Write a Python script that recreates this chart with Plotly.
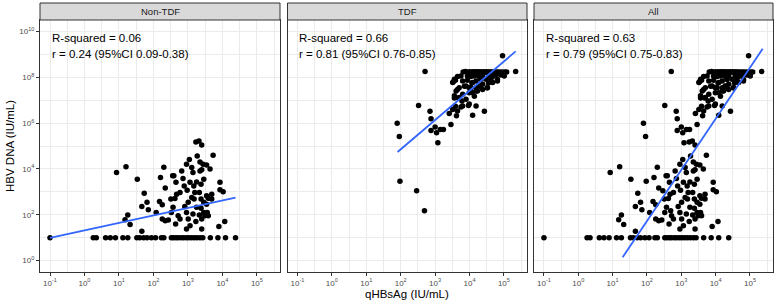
import plotly.graph_objects as go

# ---------------- data ----------------
# Non-TDF group: qHBsAg (IU/mL) and HBV DNA (IU/mL)
nontdf_qhbsag = [
    # points at the lower limit of HBV DNA (10 IU/mL)
    0.10, 1.8, 2.2, 4.1, 5.6, 7.9, 13, 18, 33, 40, 52, 65, 87, 115, 170, 200,
    330, 380, 450, 520, 630, 740, 890, 1050, 1260, 1510, 1820, 2240, 2690,
    4470, 7410, 12300, 24000,
    # quantifiable points
    8.5, 16, 34, 54, 65, 46, 71, 15, 18, 21, 46, 160, 200, 150, 180, 120, 220,
    180, 220, 270, 320, 360, 390, 450, 470, 590, 420, 370, 330, 520, 440, 590,
    720, 660, 910, 1100, 1290, 1400, 780, 950, 1150, 1290, 1020, 810, 910, 1020,
    910, 1150, 1480, 1780, 1580, 1510, 1780, 1400, 1700, 2140, 1700, 2090, 2510,
    1860, 2240, 2750, 2240, 2510, 3470, 2400, 2880, 2140, 2400, 2880, 2400, 2880,
    2510, 3470, 3470, 3630, 3090, 3890, 2510, 3890, 4370, 4900, 5370, 8500, 8500,
    10500, 7900, 11700, 4900,
]
nontdf_hbvdna = [
    10, 10, 10, 10, 10, 10, 10, 10, 10, 10, 10, 10, 10, 10, 10, 10,
    10, 10, 10, 10, 10, 10, 10, 10, 10, 10, 10, 10, 10,
    10, 10, 10, 10,
    6900, 12300, 3550, 870, 350, 230, 166, 60, 98, 37, 19, 4200, 11700, 380, 270, 126, 1450,
    65, 55, 59, 480, 5000, 5000, 2600, 790, 930, 510, 210, 126, 91, 39, 65,
    3800, 8100, 15800, 26000, 11500, 6900, 1800, 1170, 2600, 560, 350, 230, 126, 65,
    24, 33, 1800, 2700, 930, 480, 210, 107, 50, 98, 148000, 166000, 110000,
    37000, 20000, 15800, 8100, 9100, 14800, 2140, 3550, 930, 480, 350, 190, 126,
    65, 680, 290, 126, 91, 91, 24, 520, 9800, 480, 39000, 2600, 1230,
    1000, 31, 51, 790,
]

# TDF group
tdf_qhbsag = [
    79, 91, 95, 290, 490, 510, 330, 710, 760, 1000, 760, 1100, 1410, 1740, 1200,
    2880, 2570, 3240, 4170, 3890, 5620, 6030, 4790, 3630, 4470, 3390, 3890, 7600,
    9300, 12300, 27000, 7100, 9800, 8700, 11000, 13800, 15500, 11700, 19000, 21400,
    24000, 33000, 35500, 41700, 64600, 91000, 219000, 91000,
    3630, 3240, 4470, 5620, 6310, 8700, 11000, 13800, 7900, 9800, 12300, 15500,
    19000, 24000, 30000, 37000, 47000, 59000, 81000, 102000, 15500, 19000, 24000,
    17000, 12300, 5000, 4070, 3630, 5000, 6310, 7900, 9800, 6310, 15500, 33000,
    47000, 64600, 4470,
    # points at the upper limit of HBV DNA
    6500, 9000, 10000, 11000, 12000, 13000, 14000, 15000, 16000, 17000, 18000,
    19500, 21000, 23000, 25000, 27000, 29000, 31000, 34000, 37000, 40000, 44000,
    50000, 57000, 65000, 75000, 88000, 105000, 120000,
]
tdf_hbvdna = [
    980000, 257000, 2900, 1100, 148, 1.8e8, 5.9e6, 3.3e6, 1.55e6, 680000, 480000,
    380000, 525000, 525000, 138000, 870000, 2.6e6, 3.9e6, 2.1e6, 5.5e6, 5.1e6,
    9.1e6, 1.23e7, 1.26e7, 2.9e7, 6.3e7, 7.4e7, 1.8e8, 5.9e6, 2.2e6, 3.3e6, 4.1e7,
    2.1e7, 7.4e7, 3.5e7, 1.48e7, 2.5e7, 5.6e7, 4.1e7, 7.9e7, 2.9e7, 3.5e7, 5.6e7,
    7.9e7, 7.9e7, 8.7e8, 1.8e8, 1.55e8,
    8.1e7, 5.9e7, 1.07e8, 1.15e8, 6.9e7, 1.15e8, 1.07e8, 1.15e8, 4.2e7, 3.5e7,
    5.9e7, 6.9e7, 1.07e8, 1.15e8, 8.1e7, 1.15e8, 1.07e8, 1.26e8, 1.26e8, 1.15e8,
    3.5e7, 4.2e7, 5.0e7, 2.5e7, 2.1e7, 3.5e7, 2.5e7, 1.55e7, 1.32e7, 1.8e7, 1.1e7,
    6.8e6, 5.6e6, 5.6e6, 3.5e7, 5.9e7, 6.9e7, 3.4e6,
    1.7e8, 1.7e8, 1.7e8, 1.7e8, 1.7e8, 1.7e8, 1.7e8, 1.7e8, 1.7e8, 1.7e8, 1.7e8,
    1.7e8, 1.7e8, 1.7e8, 1.7e8, 1.7e8, 1.7e8, 1.7e8, 1.7e8, 1.7e8, 1.7e8, 1.7e8,
    1.7e8, 1.7e8, 1.7e8, 1.7e8, 1.7e8, 1.7e8, 1.7e8,
]

# "All" panel = both groups together
all_qhbsag = nontdf_qhbsag + tdf_qhbsag
all_hbvdna = nontdf_hbvdna + tdf_hbvdna

# fitted regression lines (end points, IU/mL)
fit_nontdf_x = [0.10, 24000]
fit_nontdf_y = [9.8, 560]
fit_tdf_x = [81, 219000]
fit_tdf_y = [55000, 1.35e9]
fit_all_x = [19.5, 234000]
fit_all_y = [1.38, 1.78e9]

panel_titles = ["Non-TDF", "TDF", "All"]
stats_line1 = ["R-squared = 0.06", "R-squared = 0.66", "R-squared = 0.63"]
stats_line2 = ["r = 0.24 (95%CI 0.09-0.38)", "r = 0.81 (95%CI 0.76-0.85)",
               "r = 0.79 (95%CI 0.75-0.83)"]

x_tickvals = [0.1, 1, 10, 100, 1e3, 1e4, 1e5]
x_ticktext = ["10<sup>-1</sup>", "10<sup>0</sup>", "10<sup>1</sup>", "10<sup>2</sup>",
              "10<sup>3</sup>", "10<sup>4</sup>", "10<sup>5</sup>"]
x_minor = [0.316, 3.16, 31.6, 316, 3162, 31623, 316228]
y_tickvals = [1, 1e2, 1e4, 1e6, 1e8, 1e10]
y_ticktext = ["10<sup>0</sup>", "10<sup>2</sup>", "10<sup>4</sup>", "10<sup>6</sup>",
              "10<sup>8</sup>", "10<sup>10</sup>"]
y_minor = [10, 1e3, 1e5, 1e7, 1e9]

# ---------------- figure ----------------
W, H = 777, 306
ML, MR, MT, MB = 40, 4, 3, 34
PW = W - ML - MR
PH = H - MT - MB
FONT = "Liberation Sans, Arial, Helvetica, sans-serif"

panels_px = [(40, 280), (287.5, 527), (534, 773)]
domains = [[(a - ML) / PW, (b - ML) / PW] for a, b in panels_px]
ytop = (272 - 20) / PH  # top of the panels (paper), strips above

fig = go.Figure()
series = [(nontdf_qhbsag, nontdf_hbvdna, fit_nontdf_x, fit_nontdf_y),
          (tdf_qhbsag, tdf_hbvdna, fit_tdf_x, fit_tdf_y),
          (all_qhbsag, all_hbvdna, fit_all_x, fit_all_y)]

for i, (xs, ys, fx, fy) in enumerate(series):
    sfx = "" if i == 0 else str(i + 1)
    fig.add_trace(go.Scatter(x=xs, y=ys, mode="markers", xaxis="x" + sfx, yaxis="y" + sfx,
                             marker=dict(size=5.5, color="black"), showlegend=False,
                             cliponaxis=False))
    fig.add_trace(go.Scatter(x=fx, y=fy, mode="lines", xaxis="x" + sfx, yaxis="y" + sfx,
                             line=dict(color="#3366FF", width=1.8), showlegend=False))

axis_common = dict(type="log", showline=True, mirror=True, linecolor="#333333", linewidth=1,
                   ticks="outside", ticklen=3, tickcolor="#333333", tickwidth=1,
                   showgrid=True, gridcolor="#EBEBEB", gridwidth=1, zeroline=False,
                   tickfont=dict(size=8, color="#4D4D4D", family=FONT))

layout = dict(width=W, height=H, margin=dict(l=ML, r=MR, t=MT, b=MB),
              paper_bgcolor="white", plot_bgcolor="white",
              font=dict(family=FONT, color="black"), showlegend=False)

for i in range(3):
    sfx = "" if i == 0 else str(i + 1)
    layout["xaxis" + sfx] = dict(axis_common, domain=domains[i], anchor="y" + sfx,
                                 range=[-1.29, 5.67], tickvals=x_tickvals, ticktext=x_ticktext,
                                 minor=dict(tickvals=x_minor, showgrid=True,
                                            gridcolor="#EBEBEB", gridwidth=0.5, ticks=""))
    layout["yaxis" + sfx] = dict(axis_common, domain=[0, ytop], anchor="x" + sfx,
                                 range=[-0.5, 10.5], tickvals=y_tickvals, ticktext=y_ticktext,
                                 showticklabels=(i == 0),
                                 ticks="outside" if i == 0 else "",
                                 minor=dict(tickvals=y_minor, showgrid=True,
                                            gridcolor="#EBEBEB", gridwidth=0.5, ticks=""))

shapes = []
annotations = []
for i in range(3):
    sfx = "" if i == 0 else str(i + 1)
    d0, d1 = domains[i]
    shapes.append(dict(type="rect", xref="paper", yref="paper", x0=d0, x1=d1,
                       y0=ytop, y1=1.0, fillcolor="#D9D9D9",
                       line=dict(color="#333333", width=1), layer="above"))
    annotations.append(dict(xref="paper", yref="paper", x=(d0 + d1) / 2,
                            y=(ytop + 1) / 2, text=panel_titles[i], showarrow=False,
                            xanchor="center", yanchor="middle",
                            font=dict(size=9.5, color="#1A1A1A", family=FONT)))
    annotations.append(dict(xref="x" + sfx, yref="y" + sfx, x=-1, y=9.696,
                            text=stats_line1[i], showarrow=False, xanchor="left",
                            yanchor="middle", font=dict(size=11.5, color="black", family=FONT)))
    annotations.append(dict(xref="x" + sfx, yref="y" + sfx, x=-1, y=9.0,
                            text=stats_line2[i], showarrow=False, xanchor="left",
                            yanchor="middle", font=dict(size=11.5, color="black", family=FONT)))

annotations.append(dict(xref="paper", yref="paper", x=(10 - ML) / PW, y=(272 - 146) / PH,
                        text="HBV DNA (IU/mL)", textangle=-90, showarrow=False,
                        xanchor="center", yanchor="middle",
                        font=dict(size=11.5, color="black", family=FONT)))
annotations.append(dict(xref="paper", yref="paper", x=(407 - ML) / PW, y=(272 - 294) / PH,
                        text="qHBsAg (IU/mL)", showarrow=False,
                        xanchor="center", yanchor="middle",
                        font=dict(size=11.5, color="black", family=FONT)))

layout["shapes"] = shapes
layout["annotations"] = annotations
fig.update_layout(**layout)

fig.write_html("out.html", config={"displayModeBar": False},
               post_script="document.body.style.margin='0';document.body.style.overflow='hidden';")
